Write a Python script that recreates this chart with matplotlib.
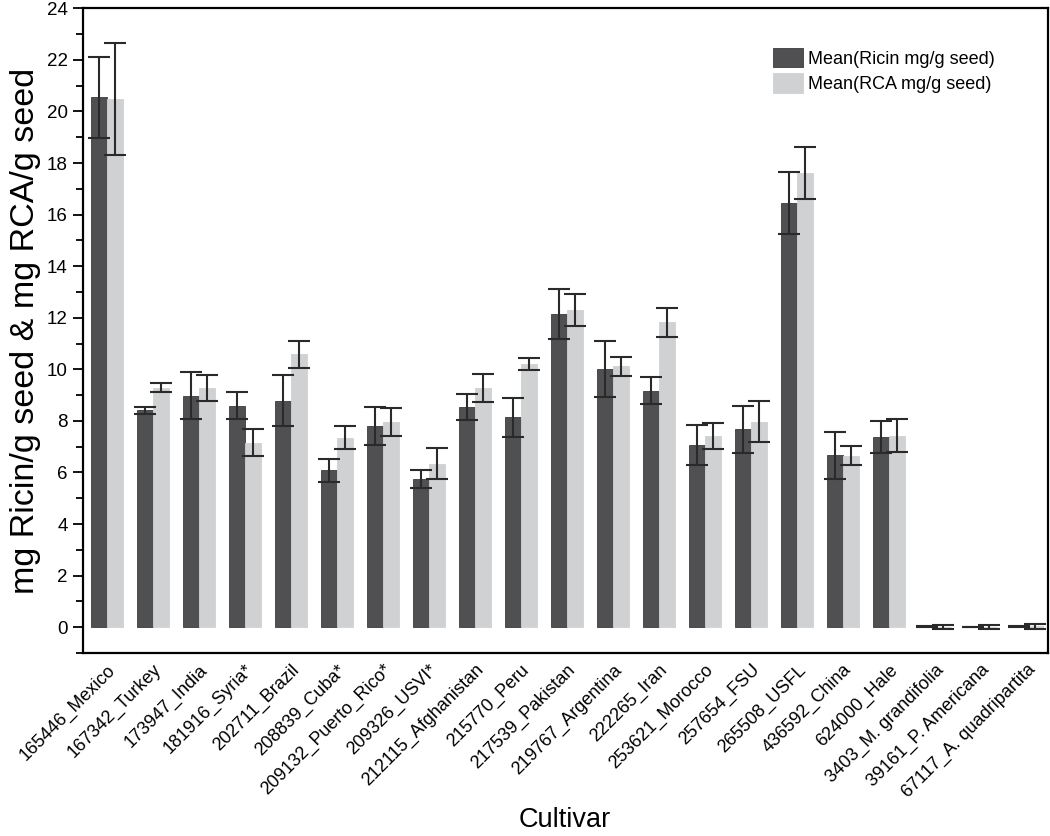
import numpy as np
import matplotlib
matplotlib.use("Agg")
import matplotlib.pyplot as plt
from matplotlib.ticker import MultipleLocator

plt.rcParams["font.family"] = ["Liberation Sans", "DejaVu Sans"]

# ----------------------------------------------------------------
# DATA
# ----------------------------------------------------------------
cultivars = [
    "165446_Mexico", "167342_Turkey", "173947_India", "181916_Syria*",
    "202711_Brazil", "208839_Cuba*", "209132_Puerto_Rico*", "209326_USVI*",
    "212115_Afghanistan", "215770_Peru", "217539_Pakistan", "219767_Argentina",
    "222265_Iran", "253621_Morocco", "257654_FSU", "265508_USFL",
    "436592_China", "624000_Hale", "3403_M. grandifolia", "39161_P. Americana",
    "67117_A. quadripartita",
]
ricin = [20.55, 8.41, 8.97, 8.59, 8.79, 6.09, 7.81, 5.74, 8.55, 8.14, 12.15,
         10.02, 9.17, 7.05, 7.67, 16.45, 6.66, 7.38, 0.02, 0.01, 0.02]
ricin_err = [1.56, 0.14, 0.91, 0.53, 0.97, 0.45, 0.73, 0.35, 0.51, 0.75, 0.96,
             1.08, 0.53, 0.78, 0.91, 1.20, 0.92, 0.63, 0.03, 0.01, 0.03]
rca = [20.50, 9.28, 9.27, 7.15, 10.58, 7.35, 7.96, 6.34, 9.27, 10.20, 12.30,
       10.12, 11.82, 7.42, 7.97, 17.62, 6.65, 7.43, 0.01, 0.01, 0.03]
rca_err = [2.17, 0.17, 0.49, 0.53, 0.53, 0.44, 0.53, 0.60, 0.54, 0.22, 0.63,
           0.37, 0.57, 0.50, 0.80, 1.01, 0.36, 0.63, 0.09, 0.08, 0.09]

DARK = "#505052"
LIGHT = "#d0d1d3"
ERR = "#2a2a2a"
W = 0.35

# ----------------------------------------------------------------
# PLOT
# ----------------------------------------------------------------
fig = plt.figure(figsize=(10.5, 8.36), dpi=100)
ax = fig.add_axes([0.079, 0.219, 0.919, 0.771])

x = np.arange(len(cultivars))
ekw = dict(ecolor=ERR, elinewidth=1.5, capsize=8, capthick=1.5)
ax.bar(x - W / 2, ricin, W, yerr=ricin_err, color=DARK, edgecolor="#3c3c3e",
       linewidth=0.6, error_kw=ekw, label="Mean(Ricin mg/g seed)")
ax.bar(x + W / 2, rca, W, yerr=rca_err, color=LIGHT, edgecolor=LIGHT,
       linewidth=0.6, error_kw=ekw, label="Mean(RCA mg/g seed)")

ax.set_xlim(-0.52, 20.46)
ax.set_ylim(-1, 24)
ax.yaxis.set_major_locator(MultipleLocator(2))
ax.yaxis.set_minor_locator(MultipleLocator(1))
ax.tick_params(axis="y", which="major", length=7, width=1.3, labelsize=13.5, pad=4)
ax.tick_params(axis="y", which="minor", length=5, width=1.3)
ax.tick_params(axis="x", length=0, pad=6)

ax.set_xticks(x)
ax.set_xticklabels(cultivars, rotation=45, ha="right", rotation_mode="anchor",
                   fontsize=13)

for s in ax.spines.values():
    s.set_linewidth(1.6)

ax.set_ylabel("mg Ricin/g seed & mg RCA/g seed", fontsize=24.5, labelpad=4)
fig.text(0.538, 0.003, "Cultivar", fontsize=19.5, ha="center", va="bottom")

ax.legend(loc="upper left", bbox_to_anchor=(0.736, 0.943),
          bbox_transform=fig.transFigure, frameon=False, fontsize=13,
          handlelength=1.7, handleheight=1.3, handletextpad=0.25,
          labelspacing=0.32, borderpad=0, borderaxespad=0)

fig.savefig("out.png", dpi=100)
